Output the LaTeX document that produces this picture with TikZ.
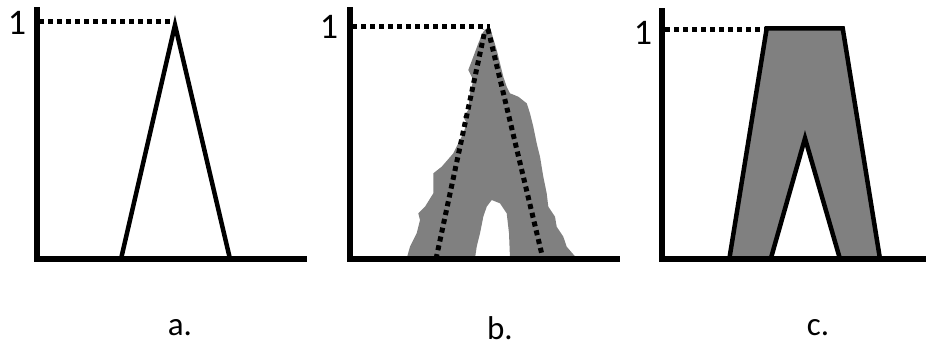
\documentclass[tikz,border=0pt]{standalone}
\usepackage{fontspec}
\setmainfont{Carlito}
\definecolor{blobgray}{HTML}{808080}
\begin{document}
\begin{tikzpicture}[x=1pt,y=-1pt,
  axisline/.style={line width=5.5pt},
  dotline/.style={line width=5pt,dash pattern=on 5pt off 4pt},
  shapeline/.style={line width=4.5pt,line join=miter},
  onelabel/.style={font=\fontsize{36}{36}\selectfont,inner sep=0pt},
  caplabel/.style={font=\fontsize{33}{33}\selectfont,inner sep=0pt}]
\useasboundingbox (0,0) rectangle (926,354);
% ---------- panel a
\draw[dotline] (39,21) -- (176,21);
\draw[shapeline] (121,259) -- (175,25) -- (230,259);
\draw[axisline] (37,7) -- (37,261.7) (34.3,259) -- (307,259);
\node[onelabel] (oneA) at (17,23) {1};
\node[caplabel] (labA) at (180,328) {a.};
% ---------- panel b
\fill[blobgray] (406.7,258.3) -- (410,246.7) -- (416.7,233.3) -- (420,220) -- (418.3,213.3) -- (425,206.7) -- (433.3,193.3) -- (433.3,173.3) -- (441.7,166.7) -- (453.3,153.3) -- (458.3,143.3) -- (463.3,133.3) -- (466.7,123.3) -- (463.3,116.7) -- (468.3,110) -- (470,93.3) -- (473.3,80) -- (468.3,70) -- (473.3,56.7) -- (478.3,43.3) -- (483.3,31.7) -- (486.7,28.3) -- (491.7,33.3) -- (496.7,50) -- (503.3,76.7) -- (506.7,86.7) -- (510,93.3) -- (518.3,96.7) -- (526.7,103.3) -- (530,113.3) -- (533.3,126.7) -- (536.7,143.3) -- (540,156.7) -- (543.3,176.7) -- (546.7,193.3) -- (548.3,206.7) -- (555,216.7) -- (556.7,226.7) -- (563.3,236.7) -- (566.7,246.7) -- (576.7,258.3)
 -- (510,258.3) -- (509,233.3) -- (506.7,213.3) -- (500,203.3) -- (491.7,200) -- (486.7,206.7) -- (483.3,216.7) -- (480,233.3) -- (476.7,246.7) -- (475,258.3) -- cycle;
\draw[dotline] (352,26) -- (490,26);
\draw[dotline] (436,259) -- (485,30);
\draw[dotline] (488,29) -- (543,259);
\draw[axisline] (350,7) -- (350,261.7) (347.3,259) -- (620,259);
\node[onelabel] (oneB) at (329,27) {1};
\node[caplabel] (labB) at (500,328) {b.};
% ---------- panel c
\draw[dotline] (665,29) -- (767,29);
\draw[shapeline,fill=blobgray] (729.3,259) -- (766.7,28.3) -- (842.7,28.3) -- (880,259) -- (840,259) -- (805,138.3) -- (770.7,259) -- cycle;
\draw[axisline] (662,8) -- (662,261.7) (659.3,259) -- (926,259);
\node[onelabel] (oneC) at (643,33) {1};
\node[caplabel] (labC) at (818,328) {c.};
\end{tikzpicture}
\end{document}
